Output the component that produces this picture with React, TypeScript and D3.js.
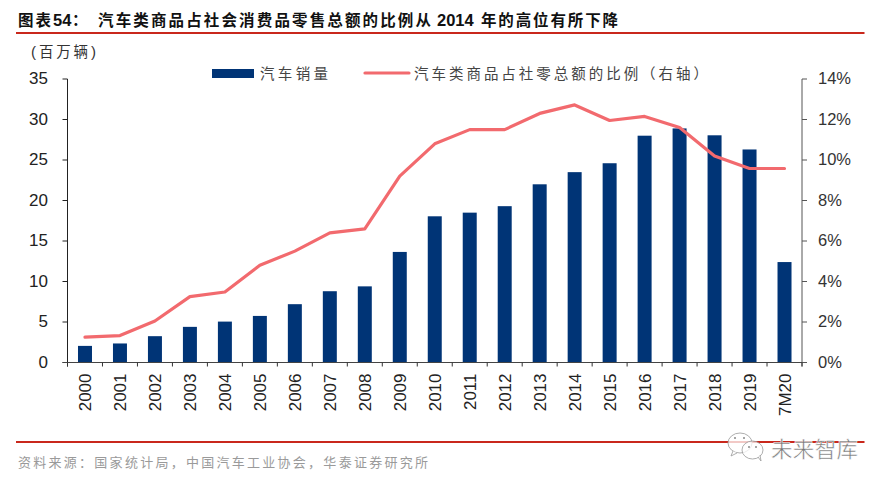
import React from "react";
import * as d3 from "d3";

const categories = ["2000","2001","2002","2003","2004","2005","2006","2007","2008","2009","2010","2011","2012","2013","2014","2015","2016","2017","2018","2019","7M20"];
const salesValues = [2.05,2.35,3.25,4.4,5.05,5.75,7.2,8.8,9.4,13.65,18.05,18.5,19.3,22,23.5,24.6,28,28.9,28.05,26.3,12.4];
const shareValues = [1.25,1.33,2.05,3.25,3.48,4.8,5.5,6.4,6.6,9.2,10.8,11.5,11.5,12.3,12.72,11.95,12.15,11.6,10.2,9.58,9.58];
const leftTicks = [0,5,10,15,20,25,30,35];
const rightTicks = [0,2,4,6,8,10,12,14];

const titlePartA = "汽车类商品占社会消费品零售总额的比例从";
const titlePartB = "年的高位有所下降";
const unitLabel = "百万辆";
const barLegend = "汽车销量";
const lineLegend = "汽车类商品占社零总额的比例（右轴）";
const sourceText = "资料来源：国家统计局，中国汽车工业协会，华泰证券研究所";
const watermark = "未来智库";

const width = 886;
const height = 487;
const plot = { left: 67.5, right: 802, top: 79, bottom: 362.5 };

const cjk = "'Noto Sans CJK SC', sans-serif";
const latin = "'Liberation Sans', Arial, sans-serif";
const barColor = "#003476";
const lineColor = "#f26a6e";
const ruleColor = "#c9281c";

export default function App() {
  const x = d3.scaleBand<string>().domain(categories).range([plot.left, plot.right]).paddingInner(0.6).paddingOuter(0.3);
  const step = x.step();
  const yLeft = d3.scaleLinear().domain([0, 35]).range([plot.bottom, plot.top]);
  const yRight = d3.scaleLinear().domain([0, 14]).range([plot.bottom, plot.top]);

  const line = d3
    .line<number>()
    .x((_, i) => (x(categories[i]) as number) + x.bandwidth() / 2)
    .y((d) => yRight(d));

  const bandEdges = d3.range(categories.length + 1).map((i) => plot.left + i * step);

  return (
    <svg width={width} height={height} style={{ position: "absolute", left: 0, top: 0, background: "#fff" }}>
      {/* header */}
      <g fill="#111" fontWeight={700} fontSize={15.5}>
        <text x={18} y={26} fontFamily={cjk} textLength={33}>图表</text>
        <text x={53} y={26} fontFamily={latin} fontSize={16.5}>54</text>
        <text x={72} y={26} fontFamily={cjk}>：</text>
        <text x={98} y={26} fontFamily={cjk} textLength={333} lengthAdjust="spacing">{titlePartA}</text>
        <text x={437} y={26} fontFamily={latin} fontSize={16.5}>2014</text>
        <text x={481} y={26} fontFamily={cjk} textLength={137} lengthAdjust="spacing">{titlePartB}</text>
      </g>
      <line x1={16} x2={864.5} y1={33} y2={33} stroke={ruleColor} strokeWidth={2} />

      <text x={31} y={57} fontFamily={latin} fontSize={15} fill="#333">(</text>
      <text x={39} y={57} fontFamily={cjk} fontSize={14.5} fill="#333" textLength={49}>{unitLabel}</text>
      <text x={91} y={57} fontFamily={latin} fontSize={15} fill="#333">)</text>

      {/* legend */}
      <rect x={212} y={69} width={42} height={9} fill={barColor} />
      <text x={260} y={78.5} fontFamily={cjk} fontSize={14.5} fill="#444" textLength={68}>{barLegend}</text>
      <line x1={365} x2={409} y1={73} y2={73} stroke={lineColor} strokeWidth={3.2} strokeLinecap="round" />
      <text x={414} y={78.5} fontFamily={cjk} fontSize={14.5} fill="#444" textLength={294}>{lineLegend}</text>

      {/* bars */}
      {salesValues.map((v, i) => (
        <rect key={categories[i]} x={x(categories[i])} y={yLeft(v)} width={x.bandwidth()} height={plot.bottom - yLeft(v)} fill={barColor} />
      ))}

      {/* ratio line */}
      <path d={line(shareValues) as string} fill="none" stroke={lineColor} strokeWidth={3.2} strokeLinejoin="round" strokeLinecap="round" />

      {/* left axis */}
      <line x1={plot.left} x2={plot.left} y1={plot.top} y2={plot.bottom + 4} stroke="#222" />
      {leftTicks.map((t) => (
        <g key={t}>
          <line x1={plot.left - 5} x2={plot.left} y1={yLeft(t)} y2={yLeft(t)} stroke="#222" />
          <text x={48} y={yLeft(t) + 5} textAnchor="end" fontFamily={latin} fontSize={17} fill="#222">{t}</text>
        </g>
      ))}

      {/* right axis */}
      <line x1={plot.right} x2={plot.right} y1={plot.top} y2={plot.bottom + 4} stroke="#555" />
      {rightTicks.map((t) => (
        <g key={t}>
          <line x1={plot.right} x2={plot.right + 5} y1={yRight(t)} y2={yRight(t)} stroke="#555" />
          <text x={818} y={yRight(t) + 5} fontFamily={latin} fontSize={16.5} fill="#333">{t}%</text>
        </g>
      ))}

      {/* category axis */}
      <line x1={plot.left - 5} x2={plot.right} y1={plot.bottom} y2={plot.bottom} stroke="#444" />
      {bandEdges.map((e) => (
        <line key={e} x1={e} x2={e} y1={plot.bottom} y2={plot.bottom + 4} stroke="#333" />
      ))}
      {categories.map((c) => {
        const cx = (x(c) as number) + x.bandwidth() / 2;
        return (
          <text key={c} transform={`translate(${cx + 6.5},373.5) rotate(-90)`} textAnchor="end" fontFamily={latin} fontSize={17} fill="#222">{c}</text>
        );
      })}

      {/* footer */}
      <line x1={16} x2={864.5} y1={442} y2={442} stroke={ruleColor} strokeWidth={2} />
      <text x={18} y={467} fontFamily={cjk} fontSize={13} fill="#9a9a9a" textLength={410}>{sourceText}</text>

      {/* watermark */}
      <g fill="#fff" fillOpacity={0.75} stroke="#999" strokeWidth={0.8}>
        <ellipse cx={740} cy={443} rx={12} ry={10} />
        <path d="M733 451 l-2 5 l6 -3" />
        <ellipse cx={752.5} cy={450} rx={10.5} ry={9} />
        <path d="M758 457 l3 4 l-1 -6" />
      </g>
      <g fill="#888">
        <circle cx={735} cy={438} r={1} />
        <circle cx={744} cy={438} r={1} />
        <circle cx={749} cy={447} r={1} />
        <circle cx={756} cy={447} r={1} />
      </g>
      <text x={771} y={457} fontFamily={cjk} fontSize={21.5} fill="#777" stroke="#fff" strokeWidth={0.5} textLength={87}>{watermark}</text>
    </svg>
  );
}
